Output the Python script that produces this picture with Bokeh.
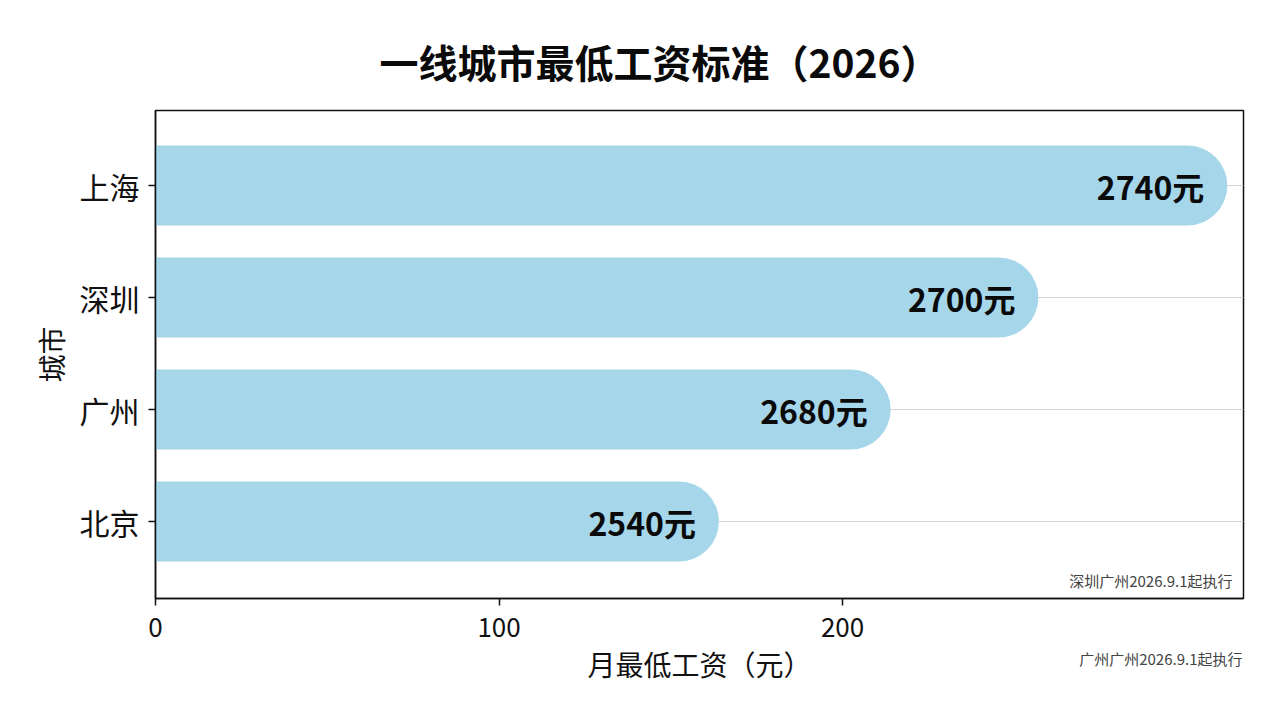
from bokeh.plotting import figure
from bokeh.models import Range1d, FixedTicker, ColumnDataSource, Label
from bokeh.core.properties import value
from bokeh.embed import file_html
from bokeh.resources import INLINE

# ---- data ----
cities = ["上海", "深圳", "广州", "北京"]
wages = [2740, 2700, 2680, 2540]            # value labels (元)
bar_lengths = [312, 257, 214, 164]          # bar ends as drawn on the x axis
x_ticks = [0, 100, 200]
title_text = "一线城市最低工资标准（2026）"
x_label = "月最低工资（元）"
y_label = "城市"
note_inside = "深圳广州2026.9.1起执行"
note_outside = "广州广州2026.9.1起执行"

FONT = "Noto Sans CJK SC"
X_END = 316.7
Y_START, Y_END = -0.6875, 3.67

ypos = [len(cities) - 1 - i for i in range(len(cities))]
src = ColumnDataSource(dict(y=ypos, right=bar_lengths,
                            label=[f"{w}元" for w in wages]))

p = figure(width=1264, height=700, output_backend="svg", toolbar_location=None,
           x_range=Range1d(0, X_END), y_range=Range1d(Y_START, Y_END),
           min_border_left=155, min_border_right=21,
           min_border_top=110, min_border_bottom=102,
           background_fill_color="white", border_fill_color="white")

p.hbar(y="y", left=0, right="right", height=0.714, source=src,
       fill_color="#A6D6EA", line_color=None, border_radius=(0, 40, 40, 0))

p.text(x="right", y="y", text="label", source=src, x_offset=-23,
       text_align="right", text_baseline="middle",
       text_font=value(FONT), text_font_style="bold",
       text_font_size="32px", text_color="#0a0a0a")

# grid
p.xgrid.visible = False
p.ygrid.ticker = FixedTicker(ticks=ypos)
p.ygrid.grid_line_color = "#d4d4d4"
p.ygrid.grid_line_width = 1.2

# frame
p.outline_line_color = "#111111"
p.outline_line_width = 1.5

# axes
p.xaxis.ticker = FixedTicker(ticks=x_ticks)
p.yaxis.ticker = FixedTicker(ticks=ypos)
p.yaxis.major_label_overrides = {y: c for y, c in zip(ypos, cities)}
for ax in (p.xaxis[0], p.yaxis[0]):
    ax.axis_line_color = "#111111"
    ax.axis_line_width = 1.5
    ax.major_tick_line_color = "#111111"
    ax.major_tick_line_width = 1.5
    ax.major_tick_out = 7
    ax.major_tick_in = 0
    ax.minor_tick_line_color = None
    ax.major_label_text_font = FONT
    ax.major_label_text_color = "#111111"
    ax.axis_label_text_font = FONT
    ax.axis_label_text_font_style = "normal"
    ax.axis_label_text_color = "#111111"

p.xaxis.axis_label = x_label
p.xaxis.major_label_text_font_size = "26px"
p.xaxis.axis_label_text_font_size = "28px"
p.xaxis.major_label_standoff = 12
p.xaxis.axis_label_standoff = 4

p.yaxis.axis_label = y_label
p.yaxis.major_label_text_font_size = "30px"
p.yaxis.axis_label_text_font_size = "28px"
p.yaxis.major_label_standoff = 9
p.yaxis.axis_label_standoff = 6

# title
p.title.text = title_text
p.title.align = "left"
p.title.offset = 224
p.title.standoff = 2
p.title.text_font = FONT
p.title.text_font_style = "bold"
p.title.text_font_size = "39px"
p.title.text_color = "#0a0a0a"

# notes
p.add_layout(Label(x=X_END, y=Y_START, x_offset=-11, y_offset=8, text=note_inside,
                   text_align="right", text_baseline="bottom",
                   text_font=FONT, text_font_size="15px", text_color="#444444"))
p.add_layout(Label(x=X_END, y=Y_START, x_offset=-1, y_offset=-60, text=note_outside,
                   text_align="right", text_baseline="middle",
                   text_font=FONT, text_font_size="15px", text_color="#444444"), "above")

open("out.html", "w").write(file_html(p, INLINE))
